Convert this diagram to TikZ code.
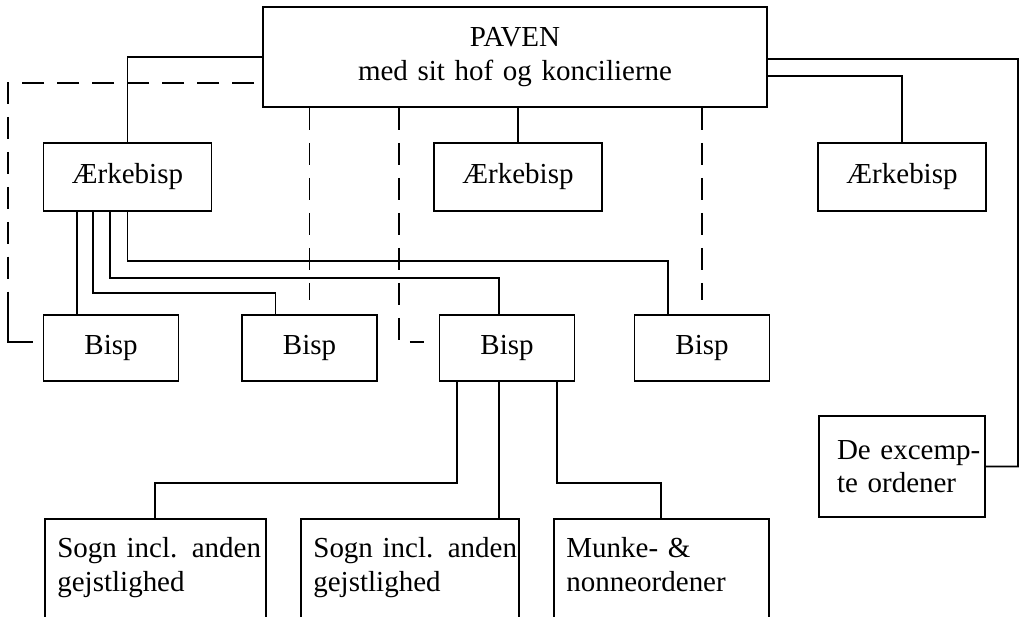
\documentclass[tikz,border=0pt]{standalone}
\usepackage{fontspec}
\setmainfont{Liberation Serif}
\usepackage{tikz}

\begin{document}
\begin{tikzpicture}[x=0.02cm, y=-0.02cm, line width=1pt,
	every node/.style={font=\fontsize{16.5}{19}\selectfont},
	orgbox/.style={draw, inner sep=0pt, align=center},
	bispbox/.style={orgbox, minimum width=2.7cm, minimum height=1.32cm},
	aebox/.style={orgbox, minimum width=3.36cm, minimum height=1.36cm},
	leafbox/.style={draw, anchor=north west, align=left, inner xsep=0.25cm, inner ysep=0pt, text height=0.78cm, text depth=3cm},
	dashline/.style={dash pattern=on 0.44cm off 0.26cm}]
	\useasboundingbox (0,0) rectangle (1033,616);
	\clip (0,0) rectangle (1033,616);
	\node[orgbox, minimum width=10.08cm, minimum height=2cm, text width=9cm] (pave) at (515,57) {PAVEN\\med sit hof og koncilierne};
	\node[aebox] (ae1) at (127.5,177) {Ærkebisp};
	\node[aebox] (ae2) at (518,177) {Ærkebisp};
	\node[aebox] (ae3) at (902,177) {Ærkebisp};
	\node[bispbox] (bisp1) at (111,348) {Bisp};
	\node[bispbox] (bisp2) at (309.5,348) {Bisp};
	\node[bispbox] (bisp3) at (507,348) {Bisp};
	\node[bispbox] (bisp4) at (702,348) {Bisp};
	\node[orgbox, align=left, minimum width=3.32cm, minimum height=2.02cm, text width=2.6cm] (exc) at (902,466.5) {\mbox{De excemp-}\\te ordener};
	\node[leafbox, text width=3.92cm] (sogn1) at (44,518) {\mbox{Sogn incl. anden}\\gejstlighed};
	\node[leafbox, text width=3.86cm] (sogn2) at (300,518) {\mbox{Sogn incl. anden}\\gejstlighed};
	\node[leafbox, text width=3.8cm] (munke) at (553,518) {Munke- \&\\nonneordener};

	\draw (pave.west) -| (ae1.north);
	\draw (pave.south -| ae2.north) -- (ae2.north);
	\draw ([yshift=-0.38cm]pave.east) -| (ae3.north);
	\draw ([yshift=-0.04cm]pave.east) -- (1018,59) |- (exc.east);
	\draw[dashline] ([xshift=-0.16cm]pave.west |- 0,83) -| (8,292);
	\draw (8,292) |- ([xshift=-0.2cm, yshift=0.12cm]bisp1.west);
	\draw[dashline] (pave.south -| bisp2.north) -- ([yshift=0.28cm]bisp2.north);
	\draw[dashline] (pave.south -| 399,0) |- ([xshift=-0.3cm, yshift=0.12cm]bisp3.west);
	\draw[dashline] (pave.south -| bisp4.north) -- ([yshift=0.28cm]bisp4.north);

	\draw ([xshift=-0.68cm]bisp1.north) -- ([xshift=-0.68cm]bisp1.north |- ae1.south);
	\draw ([xshift=-0.69cm]ae1.south) -- ++(0,81) -| ([xshift=-0.68cm]bisp2.north);
	\draw ([xshift=-0.35cm]ae1.south) -- ++(0,66) -| ([xshift=-0.16cm]bisp3.north);
	\draw (ae1.south) -- ++(0,49) -| ([xshift=-0.68cm]bisp4.north);

	\draw ([xshift=-1cm]bisp3.south) -- ++(0,101) -| (sogn1.north);
	\draw ([xshift=-0.16cm]bisp3.south) -- ([xshift=-0.16cm]bisp3.south |- sogn2.north);
	\draw ([xshift=1cm]bisp3.south) -- ++(0,101) -| (munke.north);
\end{tikzpicture}
\end{document}
